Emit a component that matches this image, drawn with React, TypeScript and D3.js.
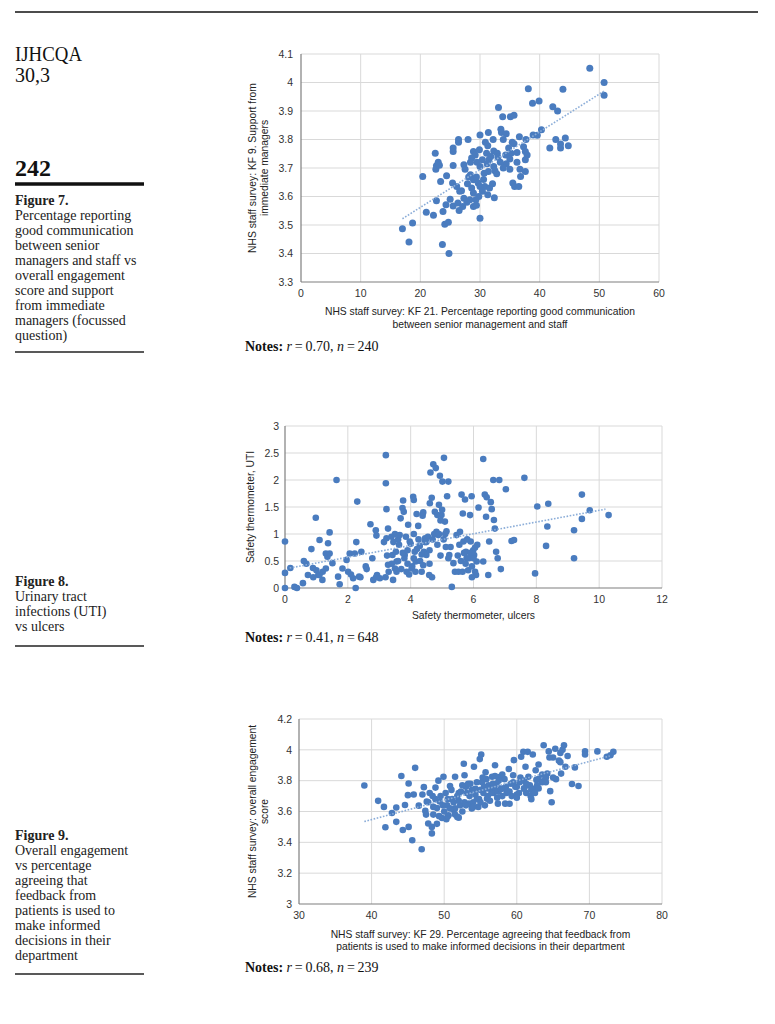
import React from "react";
import * as d3 from "d3";

// ---------- DATA ----------
// Figure 7: KF21 communication (%) vs KF9 support from immediate managers
const fig7Points: [number, number][] = [
  [48.4, 4.05], [50.8, 4.0], [50.8, 3.955], [38.1, 3.978], [43.9, 3.976], [38.8, 3.927],
  [39.9, 3.935], [42.2, 3.915], [43.0, 3.9], [33.1, 3.912], [33.8, 3.88], [35.1, 3.88],
  [35.7, 3.885], [30.0, 3.816], [31.4, 3.825], [33.5, 3.836], [33.6, 3.825], [34.4, 3.82],
  [36.6, 3.81], [37.7, 3.8], [28.0, 3.8], [26.4, 3.8], [26.4, 3.79], [32.2, 3.8],
  [33.9, 3.8], [35.4, 3.79], [38.9, 3.816], [39.6, 3.815], [40.3, 3.834], [41.7, 3.77],
  [42.7, 3.8], [43.5, 3.77], [44.3, 3.805], [44.8, 3.778], [43.5, 3.784], [25.5, 3.77],
  [25.5, 3.758], [28.9, 3.758], [29.2, 3.746], [29.9, 3.764], [31.1, 3.752], [32.3, 3.76],
  [32.9, 3.752], [34.3, 3.746], [35.2, 3.752], [36.2, 3.754], [37.3, 3.775], [37.6, 3.758],
  [37.9, 3.746], [37.6, 3.729], [35.0, 3.732], [33.0, 3.738], [31.5, 3.729], [30.4, 3.729],
  [28.6, 3.735], [28.4, 3.72], [22.5, 3.752], [23.0, 3.72], [22.7, 3.708], [22.6, 3.696],
  [20.4, 3.67], [25.5, 3.709], [27.3, 3.711], [27.5, 3.696], [30.0, 3.705], [31.2, 3.715],
  [32.3, 3.705], [32.5, 3.69], [34.4, 3.715], [35.0, 3.696], [36.7, 3.696], [36.8, 3.67],
  [37.6, 3.688], [31.4, 3.688], [30.7, 3.682], [24.4, 3.673], [23.4, 3.653], [25.4, 3.647],
  [26.1, 3.635], [26.6, 3.618], [28.1, 3.668], [28.4, 3.676], [27.9, 3.645], [28.9, 3.659],
  [29.4, 3.668], [29.7, 3.647], [30.0, 3.635], [30.8, 3.635], [31.6, 3.63], [32.1, 3.645],
  [30.4, 3.618], [31.3, 3.606], [32.4, 3.596], [35.5, 3.647], [35.8, 3.635], [36.5, 3.635],
  [28.6, 3.63], [28.9, 3.612], [27.3, 3.594], [28.3, 3.589], [29.3, 3.589], [22.7, 3.585],
  [24.3, 3.571], [25.5, 3.567], [26.3, 3.577], [26.5, 3.551], [27.1, 3.565], [28.9, 3.565],
  [29.4, 3.569], [21.0, 3.545], [22.2, 3.534], [23.8, 3.547], [30.0, 3.524], [24.1, 3.503],
  [24.7, 3.51], [18.7, 3.507], [17.0, 3.487], [18.1, 3.44], [23.7, 3.432], [24.8, 3.4],
  [35.7, 3.785], [31.3, 3.778], [29.5, 3.72], [30.6, 3.66], [31.8, 3.74], [33.4, 3.72],
  [34.8, 3.77], [26.9, 3.62], [27.8, 3.58], [29.8, 3.6], [32.8, 3.68], [36.2, 3.72],
  [23.2, 3.71], [25.0, 3.59], [30.9, 3.79], [33.9, 3.7],
];
const fig7Trend: [number, number][] = [[17, 3.522], [50.8, 3.97]];
const fig7XTicks = [0, 10, 20, 30, 40, 50, 60];
const fig7YTicks = [3.3, 3.4, 3.5, 3.6, 3.7, 3.8, 3.9, 4, 4.1];

// Figure 8: ulcers vs UTI
const fig8Points: [number, number][] = [
  [0, 0.86], [0, 0.28], [0, 0.0], [0.17, 0.37], [0.3, 0.02], [0.38, 0.0], [0.57, 0.09],
  [0.6, 0.5], [0.68, 0.45], [0.73, 0.24], [0.84, 0.72], [0.98, 1.3], [0.89, 0.37], [1.0, 0.33],
  [1.1, 0.89], [1.06, 0.24], [1.19, 0.15], [1.3, 0.36], [1.35, 0.58], [1.37, 0.83],
  [1.42, 1.03], [1.3, 0.64], [1.42, 0.64], [1.51, 0.46], [1.64, 2.0], [1.69, 0.21],
  [1.74, 0.07], [1.83, 0.36], [1.96, 0.52], [2.01, 0.3], [2.06, 0.64], [2.17, 0.18],
  [2.22, 0.64], [2.27, 0.85], [2.25, 0.0], [2.3, 1.6], [2.36, 0.21], [2.43, 0.67],
  [2.57, 0.4], [2.72, 1.18], [2.78, 0.55], [2.81, 0.15], [2.89, 1.07], [2.91, 0.97],
  [2.93, 0.24], [3.02, 0.18], [3.21, 2.46], [3.21, 1.94], [3.23, 1.46], [3.23, 0.92],
  [3.28, 1.1], [3.28, 0.43], [3.39, 0.95], [3.42, 0.61], [3.44, 0.15], [3.5, 0.36],
  [3.53, 0.67], [3.55, 0.49], [3.63, 0.8], [3.68, 1.29], [3.76, 1.62], [3.74, 1.48],
  [3.78, 1.41], [3.81, 0.61], [3.87, 0.3], [3.92, 1.17], [3.97, 0.86], [4.03, 0.36],
  [4.08, 1.69], [4.1, 1.63], [4.13, 0.67], [4.16, 0.49], [4.19, 1.37], [4.24, 1.15],
  [4.29, 0.78], [4.35, 0.3], [4.38, 1.34], [4.42, 0.67], [4.46, 0.92], [4.5, 0.61],
  [4.59, 0.24], [4.61, 1.57], [4.63, 2.14], [4.67, 1.67], [4.72, 2.29], [4.8, 2.22],
  [4.77, 1.41], [4.82, 1.04], [4.88, 0.98], [4.9, 1.54], [4.93, 2.08], [4.98, 1.35],
  [5.01, 1.97], [5.06, 2.41], [5.09, 1.23], [5.12, 0.76], [5.14, 1.05], [5.2, 1.97],
  [5.16, 1.7], [5.23, 0.61], [5.27, 0.76], [5.31, 0.02], [5.36, 0.46], [5.41, 0.3],
  [5.46, 0.98], [5.52, 0.3], [5.57, 1.04], [5.62, 1.73], [5.66, 1.38], [5.68, 0.86],
  [5.73, 1.64], [5.76, 0.67], [5.78, 0.55], [5.83, 0.33], [5.89, 1.35], [5.91, 0.86],
  [5.94, 1.7], [5.99, 0.7], [6.02, 0.61], [6.05, 0.3], [6.08, 0.24], [6.1, 0.49],
  [6.12, 0.8], [6.16, 1.49], [6.31, 2.39], [6.36, 1.73], [6.4, 1.32], [6.42, 1.68],
  [6.31, 0.49], [6.47, 0.24], [6.5, 0.86], [6.55, 1.59], [6.58, 1.46], [6.63, 2.0],
  [6.65, 1.26], [6.68, 1.1], [6.72, 0.67], [6.77, 0.55], [6.82, 2.0], [6.87, 0.35],
  [7.03, 1.83], [7.21, 0.87], [7.29, 0.89], [7.62, 2.04], [7.96, 0.27], [8.03, 1.51],
  [8.31, 0.78], [8.35, 1.14], [8.38, 1.56], [9.2, 1.07], [9.2, 0.55], [9.45, 1.73],
  [9.45, 1.28], [9.7, 1.44], [10.3, 1.35],
  [3.4, 0.45], [3.6, 0.5], [3.7, 0.35], [3.8, 0.55], [3.9, 0.45], [3.95, 0.25], [4.05, 0.4],
  [4.1, 0.55], [4.15, 0.3], [4.2, 0.72], [4.3, 0.5], [4.4, 0.42], [4.45, 0.85], [4.55, 0.95],
  [4.6, 0.7], [4.7, 0.9], [4.75, 1.0], [4.85, 0.8], [4.95, 0.6], [5.05, 0.9], [3.45, 0.85],
  [3.55, 0.3], [3.75, 0.65], [3.85, 0.95], [4.0, 0.82], [4.25, 0.9], [4.35, 0.62],
  [4.6, 0.45], [4.68, 0.2], [4.9, 1.0], [5.1, 1.0], [5.2, 0.55], [5.5, 0.6], [5.6, 0.5],
  [5.7, 0.65], [5.75, 0.45], [5.85, 0.55], [5.9, 0.65], [5.95, 0.4], [6.0, 0.55],
  [6.05, 0.75], [5.65, 0.3], [5.8, 0.9], [5.55, 0.8], [5.95, 0.2], [3.3, 0.3], [3.15, 0.85],
  [3.25, 0.6], [3.5, 1.0], [3.6, 0.9], [3.9, 0.7], [4.1, 1.0], [4.4, 1.4], [4.5, 0.85],
  [4.95, 1.25], [5.0, 1.45], [4.85, 1.35], [3.65, 0.98], [3.2, 0.2], [1.2, 0.3], [1.1, 0.25],
  [0.9, 0.2], [2.1, 0.25], [2.4, 0.2], [2.9, 0.2], [2.6, 0.35],
];
const fig8Trend: [number, number][] = [[0.15, 0.37], [10.2, 1.46]];
const fig8XTicks = [0, 2, 4, 6, 8, 10, 12];
const fig8YTicks = [0, 0.5, 1, 1.5, 2, 2.5, 3];

// Figure 9: KF29 feedback from patients (%) vs overall engagement score
const fig9Points: [number, number][] = [
  [39.0, 3.769], [40.9, 3.669], [41.7, 3.63], [41.9, 3.498], [42.8, 3.59], [43.4, 3.626],
  [43.4, 3.533], [44.1, 3.83], [44.3, 3.48], [44.6, 3.642], [45.1, 3.782], [45.0, 3.706],
  [45.1, 3.5], [45.6, 3.414], [45.8, 3.71], [46.0, 3.883], [46.5, 3.638], [46.9, 3.355],
  [47.0, 3.71], [47.2, 3.758], [47.4, 3.604], [47.6, 3.664], [47.8, 3.522], [48.3, 3.458],
  [48.3, 3.5], [48.4, 3.7], [48.5, 3.58], [48.8, 3.755], [49.0, 3.622], [49.2, 3.8],
  [49.4, 3.665], [49.7, 3.558], [49.9, 3.825], [50.2, 3.72], [50.4, 3.64], [50.6, 3.575],
  [50.8, 3.765], [51.1, 3.68], [51.3, 3.61], [51.5, 3.825], [51.8, 3.565], [52.0, 3.72],
  [52.2, 3.64], [52.5, 3.77], [52.7, 3.91], [52.8, 3.835], [53.1, 3.72], [53.4, 3.651],
  [53.6, 3.78], [53.8, 3.62], [54.1, 3.89], [54.3, 3.748], [54.5, 3.683], [54.7, 3.63],
  [54.9, 3.94], [55.1, 3.97], [55.2, 3.79], [55.4, 3.72], [55.7, 3.855], [55.9, 3.683],
  [56.1, 3.77], [56.4, 3.748], [56.6, 3.825], [56.8, 3.72], [57.0, 3.9], [57.2, 3.78],
  [57.4, 3.651], [57.5, 3.729], [57.7, 3.825], [58.0, 3.748], [58.4, 3.651], [58.6, 3.72],
  [58.9, 3.876], [59.2, 3.78], [59.5, 3.835], [59.6, 3.933], [59.8, 3.76], [60.0, 3.71],
  [60.4, 3.79], [60.6, 3.955], [60.9, 3.987], [61.0, 3.748], [61.2, 3.89], [61.3, 3.72],
  [61.5, 3.987], [61.6, 3.825], [61.8, 3.77], [61.9, 3.7], [62.2, 3.97], [62.3, 3.748],
  [62.6, 3.868], [62.7, 3.805], [63.0, 3.905], [63.5, 3.84], [63.7, 4.03], [63.9, 3.805],
  [64.2, 3.846], [64.4, 3.99], [64.6, 3.732], [64.8, 3.66], [65.3, 4.007], [65.4, 3.81],
  [65.8, 3.93], [66.1, 3.846], [66.5, 4.03], [66.7, 3.89], [67.6, 3.778], [68.0, 3.886],
  [68.5, 3.765], [69.4, 3.99], [69.4, 3.97], [71.1, 3.99], [72.4, 3.955], [72.9, 3.965],
  [73.3, 3.987],
  [49.5, 3.7], [50, 3.6], [50.5, 3.68], [51, 3.74], [51.5, 3.62], [52, 3.67], [52.5, 3.6],
  [53, 3.76], [53.5, 3.7], [54, 3.66], [54.5, 3.79], [55, 3.74], [55.5, 3.76], [55.8, 3.81],
  [56, 3.7], [56.3, 3.67], [56.7, 3.78], [57, 3.74], [57.5, 3.8], [58, 3.7], [58.5, 3.76],
  [59, 3.73], [59.5, 3.79], [60, 3.76], [60.5, 3.82], [61, 3.8], [61.5, 3.77], [62, 3.74],
  [62.5, 3.72], [63, 3.81], [63.5, 3.79], [64, 3.82], [48.5, 3.63], [48.8, 3.68],
  [49.3, 3.57], [49.8, 3.64], [50.3, 3.55], [50.8, 3.62], [51.3, 3.66], [51.8, 3.7],
  [52.3, 3.73], [52.8, 3.66], [53.3, 3.78], [53.8, 3.74], [54.3, 3.71], [54.8, 3.68],
  [55.3, 3.82], [55.6, 3.64], [56.5, 3.72], [57.3, 3.69], [57.8, 3.75], [58.3, 3.81],
  [58.8, 3.73], [59.3, 3.7], [60.3, 3.72], [61.3, 3.78], [62.8, 3.77], [48, 3.72],
  [47.8, 3.66], [47.5, 3.58], [49, 3.52], [50.5, 3.57], [51.5, 3.58], [52, 3.56], [53, 3.64],
  [54, 3.63], [55, 3.66], [56, 3.75], [57, 3.83], [58, 3.84], [59, 3.65], [60, 3.69],
  [61, 3.75], [62, 3.68], [63, 3.75], [64, 3.79], [65, 3.82], [66, 3.92], [66, 3.98],
  [65, 3.95], [64.5, 3.95], [67, 3.96], [66.3, 4.0],
];
const fig9Trend: [number, number][] = [[39, 3.535], [72.8, 3.96]];
const fig9XTicks = [30, 40, 50, 60, 70, 80];
const fig9YTicks = [3, 3.2, 3.4, 3.6, 3.8, 4, 4.2];

// Captions
const fig7Caption = [
  "Percentage reporting", "good communication", "between senior", "managers and staff vs",
  "overall engagement", "score and support", "from immediate", "managers (focussed", "question)",
];
const fig8Caption = ["Urinary tract", "infections (UTI)", "vs ulcers"];
const fig9Caption = [
  "Overall engagement", "vs percentage", "agreeing that", "feedback from",
  "patients is used to", "make informed", "decisions in their", "department",
];

// ---------- STYLE ----------
const DOT = "#4a7cbf";
const TREND = "#8badd8";
const GRID = "#d9d9d9";
const AXIS = "#7f7f7f";
const SANS = "'Liberation Sans', Arial, Helvetica, sans-serif";
const SERIF = "'Liberation Serif', 'Times New Roman', serif";

type PanelProps = {
  points: [number, number][];
  trend: [number, number][];
  xTicks: number[];
  yTicks: number[];
  left: number; right: number; top: number; bottom: number;
  yTitle: string[];
  yTitleX: number[];
  xTitle: string[];
  xTitleY: number[];
  yLabelGap: number;
  r: number;
};

function Panel(p: PanelProps) {
  const x = d3.scaleLinear().domain([p.xTicks[0], p.xTicks[p.xTicks.length - 1]]).range([p.left, p.right]);
  const y = d3.scaleLinear().domain([p.yTicks[0], p.yTicks[p.yTicks.length - 1]]).range([p.bottom, p.top]);
  const line = d3.line<[number, number]>().x((d) => x(d[0])).y((d) => y(d[1]));
  const cy = (p.top + p.bottom) / 2;
  const cx = (p.left + p.right) / 2;
  return (
    <g>
      {p.xTicks.slice(1).map((t) => (
        <line key={"gx" + t} x1={x(t)} x2={x(t)} y1={p.top} y2={p.bottom} stroke={GRID} strokeWidth={1} />
      ))}
      {p.yTicks.slice(1).map((t) => (
        <line key={"gy" + t} x1={p.left} x2={p.right} y1={y(t)} y2={y(t)} stroke={GRID} strokeWidth={1} />
      ))}
      <line x1={p.left} x2={p.left} y1={p.top} y2={p.bottom} stroke={AXIS} strokeWidth={1.2} />
      <line x1={p.left} x2={p.right} y1={p.bottom} y2={p.bottom} stroke={AXIS} strokeWidth={1.2} />
      {p.yTicks.map((t) => (
        <text key={"ly" + t} x={p.left - p.yLabelGap} y={y(t)} dy="0.35em" textAnchor="end"
          fontFamily={SANS} fontSize={10.5} fill="#333">{String(t)}</text>
      ))}
      {p.xTicks.map((t) => (
        <text key={"lx" + t} x={x(t)} y={p.bottom + 14.5} textAnchor="middle"
          fontFamily={SANS} fontSize={10.5} fill="#333">{String(t)}</text>
      ))}
      {p.points.map((d, i) => (
        <circle key={i} cx={x(d[0])} cy={y(d[1])} r={p.r} fill={DOT} />
      ))}
      <path d={line(p.trend) || ""} fill="none" stroke={TREND} strokeWidth={1.6} strokeDasharray="1.6 1.6" />
      {p.yTitle.map((s, i) => (
        <text key={"yt" + i} transform={`translate(${p.yTitleX[i]},${cy}) rotate(-90)`} textAnchor="middle"
          fontFamily={SANS} fontSize={10.3} fill="#222">{s}</text>
      ))}
      {p.xTitle.map((s, i) => (
        <text key={"xt" + i} x={cx} y={p.xTitleY[i]} textAnchor="middle"
          fontFamily={SANS} fontSize={10.3} fill="#222">{s}</text>
      ))}
    </g>
  );
}

function Notes({ x, y, r, n }: { x: number; y: number; r: string; n: string }) {
  return (
    <text x={x} y={y} fontFamily={SERIF} fontSize={14} fill="#111">
      <tspan fontWeight="bold">Notes:</tspan>
      <tspan> </tspan>
      <tspan fontStyle="italic">r</tspan>
      <tspan>{"\u2009=\u2009" + r + ", "}</tspan>
      <tspan fontStyle="italic">n</tspan>
      <tspan>{"\u2009=\u2009" + n}</tspan>
    </text>
  );
}

function Caption({ title, lines, y0, ruleY }: { title: string; lines: string[]; y0: number; ruleY: number }) {
  return (
    <g fontFamily={SERIF} fontSize={14} fill="#222">
      <text x={15} y={y0} fontWeight="bold">{title}</text>
      {lines.map((s, i) => (
        <text key={i} x={15} y={y0 + 15 * (i + 1)}>{s}</text>
      ))}
      <line x1={15} x2={144} y1={ruleY} y2={ruleY} stroke="#222" strokeWidth={1.5} />
    </g>
  );
}

export default function App() {
  return (
    <svg width={775} height={1024} style={{ position: "absolute", left: 0, top: 0, background: "#fff" }}>
      <rect x={0} y={0} width={775} height={1024} fill="#fff" />
      <line x1={15} x2={758} y1={12} y2={12} stroke="#111" strokeWidth={1.3} />
      <text x={15} y={61} fontFamily={SERIF} fontSize={20} fill="#111" textLength={67} lengthAdjust="spacingAndGlyphs">IJHCQA</text>
      <text x={15} y={82} fontFamily={SERIF} fontSize={20} fill="#111">30,3</text>
      <text x={15} y={176} fontFamily={SERIF} fontSize={24} fontWeight="bold" fill="#111">242</text>
      <line x1={15} x2={144} y1={184} y2={184} stroke="#111" strokeWidth={3.5} />

      <Caption title="Figure 7." lines={fig7Caption} y0={205} ruleY={352} />
      <Caption title="Figure 8." lines={fig8Caption} y0={586} ruleY={646} />
      <Caption title="Figure 9." lines={fig9Caption} y0={840} ruleY={974} />

      <Panel points={fig7Points} trend={fig7Trend} xTicks={fig7XTicks} yTicks={fig7YTicks}
        left={301} right={659} top={54} bottom={282} r={3.5}
        yTitle={["NHS staff survey: KF 9. Support from", "immediate managers"]} yTitleX={[256, 268]}
        xTitle={["NHS staff survey: KF 21. Percentage reporting good communication", "between senior management and staff"]}
        xTitleY={[315, 328]} yLabelGap={8} />
      <Notes x={245} y={351} r="0.70" n="240" />

      <Panel points={fig8Points} trend={fig8Trend} xTicks={fig8XTicks} yTicks={fig8YTicks}
        left={285} right={662} top={426} bottom={588} r={3.3}
        yTitle={["Safety thermometer, UTI"]} yTitleX={[254]}
        xTitle={["Safety thermometer, ulcers"]} xTitleY={[619]} yLabelGap={6} />
      <Notes x={245} y={642} r="0.41" n="648" />

      <Panel points={fig9Points} trend={fig9Trend} xTicks={fig9XTicks} yTicks={fig9YTicks}
        left={299} right={662} top={719} bottom={904} r={3.3}
        yTitle={["NHS staff survey: overall engagement", "score"]} yTitleX={[256, 268]}
        xTitle={["NHS staff survey: KF 29. Percentage agreeing that feedback from", "patients is used to make informed decisions in their department"]}
        xTitleY={[938, 950]} yLabelGap={7} />
      <Notes x={245} y={972} r="0.68" n="239" />
    </svg>
  );
}
